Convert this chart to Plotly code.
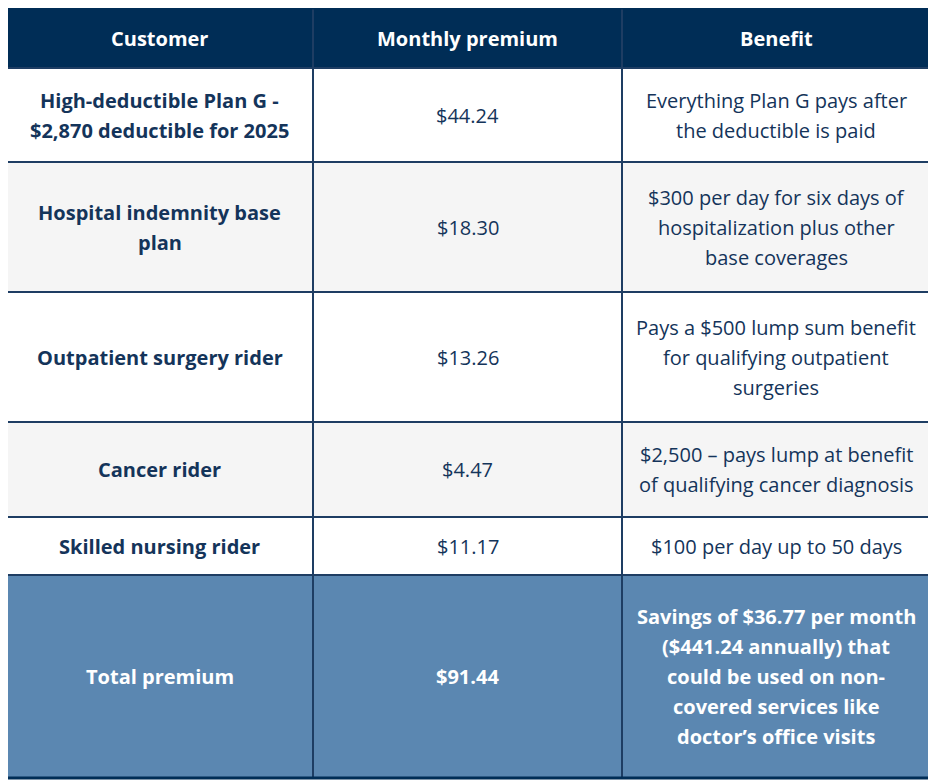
import plotly.graph_objects as go

# table content
headers = ["Customer", "Monthly premium", "Benefit"]
customers = [
    "High-deductible Plan G -\n$2,870 deductible for 2025",
    "Hospital indemnity base\nplan",
    "Outpatient surgery rider",
    "Cancer rider",
    "Skilled nursing rider",
]
premiums = [44.24, 18.30, 13.26, 4.47, 11.17]
benefits = [
    "Everything Plan G pays after\nthe deductible is paid",
    "$300 per day for six days of\nhospitalization plus other\nbase coverages",
    "Pays a $500 lump sum benefit\nfor qualifying outpatient\nsurgeries",
    "$2,500 \u2013 pays lump at benefit\nof qualifying cancer diagnosis",
    "$100 per day up to 50 days",
]
total_label = "Total premium"
total_premium = 91.44
total_benefit = ("Savings of $36.77 per month\n($441.24 annually) that\n"
                 "could be used on non-\ncovered services like\ndoctor\u2019s office visits")

# layout of the grid (page pixels; the page body has an 8px margin)
PAGE_W, PAGE_H = 936, 782
OFF = 8
col_edges = [6, 313, 622, 930]
row_heights = [60, 94, 130, 130, 95, 58, 203]
top = 8
line_gap = 30

NAVY = "#002D56"
TEXT = "#14345A"
BORDER = "#1E3D63"
GREY = "#F5F5F5"
TOTAL = "#5B87B1"
FONT = "Open Sans"

rows = [(headers, "header")]
for c, p, b in zip(customers, premiums, benefits):
    rows.append(([c, "${:,.2f}".format(p), b], "body"))
rows.append(([total_label, "${:,.2f}".format(total_premium), total_benefit], "total"))

fig = go.Figure()
shapes = []
annotations = []

y0 = top
body_i = 0
for (cells, kind), h in zip(rows, row_heights):
    y1 = y0 + h
    if kind == "header":
        fill = NAVY
    elif kind == "total":
        fill = TOTAL
    else:
        fill = "white" if body_i % 2 == 0 else GREY
        body_i += 1
    for ci, text in enumerate(cells):
        x0, x1 = col_edges[ci], col_edges[ci + 1]
        shapes.append(dict(type="rect", xref="x", yref="y", x0=x0, x1=x1, y0=y0, y1=y1,
                           fillcolor=fill, line=dict(color=BORDER, width=2), layer="below"))
        lines = text.split("\n")
        bold = kind in ("header", "total") or ci == 0
        color = "white" if kind in ("header", "total") else TEXT
        mid = (y0 + y1) / 2
        for li, ln in enumerate(lines):
            yy = mid + (li - (len(lines) - 1) / 2) * line_gap
            annotations.append(dict(
                x=(x0 + x1) / 2, y=yy, xref="x", yref="y", showarrow=False,
                text="<b>%s</b>" % ln if bold else ln,
                font=dict(family=FONT, size=20, color=color),
                xanchor="center", yanchor="middle"))
    y0 = y1

# outer frame
shapes.append(dict(type="rect", xref="x", yref="y", x0=col_edges[0], x1=col_edges[-1],
                   y0=top, y1=y0, line=dict(color=NAVY, width=3)))

fig.update_layout(
    width=PAGE_W - OFF, height=PAGE_H - OFF,
    margin=dict(l=0, r=0, t=0, b=0),
    paper_bgcolor="white", plot_bgcolor="white",
    xaxis=dict(range=[OFF, PAGE_W], visible=False, fixedrange=True),
    yaxis=dict(range=[PAGE_H, OFF], visible=False, fixedrange=True),
    shapes=shapes, annotations=annotations,
    showlegend=False,
)

fig.write_html("out.html")
